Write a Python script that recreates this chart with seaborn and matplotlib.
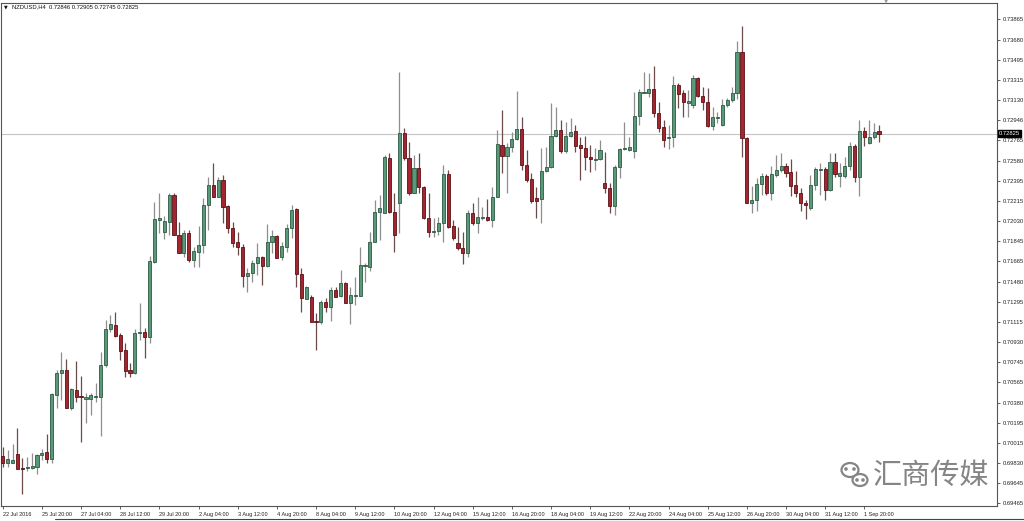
import numpy as np
import pandas as pd
import seaborn as sns
import matplotlib
matplotlib.use("Agg")
import matplotlib.pyplot as plt
from matplotlib.patches import Ellipse
from matplotlib.lines import Line2D

# ---------------- data (NZDUSD H4) ----------------
open_ = [0.69895, 0.69831, 0.69831, 0.69913, 0.69785, 0.69785, 0.69785, 0.69795, 0.69904, 0.69931,
         0.69867, 0.70449, 0.70649, 0.70676, 0.70331, 0.70495, 0.70440, 0.70413, 0.70413, 0.70431,
         0.70431, 0.70722, 0.71049, 0.71085, 0.70995, 0.70858, 0.70676, 0.70649, 0.71013, 0.71022,
         0.70976, 0.71658, 0.72040, 0.71931, 0.72022, 0.72267, 0.71904, 0.71740, 0.71922, 0.71676,
         0.71749, 0.71813, 0.72176, 0.72358, 0.72249, 0.72404, 0.72167, 0.71967, 0.71840, 0.71795,
         0.71531, 0.71558, 0.71649, 0.71704, 0.71622, 0.71840, 0.71895, 0.71704, 0.71795, 0.71967,
         0.72140, 0.71549, 0.71322, 0.71340, 0.71122, 0.71113, 0.71295, 0.71249, 0.71404, 0.71349,
         0.71467, 0.71285, 0.71349, 0.71349, 0.71622, 0.71613, 0.71840, 0.72113, 0.72104, 0.72604,
         0.72113, 0.72195, 0.72831, 0.72604, 0.72285, 0.72513, 0.72340, 0.72058, 0.71931, 0.71940,
         0.72013, 0.72458, 0.71985, 0.71831, 0.71785, 0.71740, 0.72104, 0.72013, 0.72058, 0.72067,
         0.72040, 0.72249, 0.72722, 0.72622, 0.72704, 0.72776, 0.72867, 0.72540, 0.72413, 0.72240,
         0.72231, 0.72485, 0.72522, 0.72804, 0.72858, 0.72667, 0.72804, 0.72849, 0.72722, 0.72695,
         0.72613, 0.72585, 0.72595, 0.72376, 0.72331, 0.72167, 0.72522, 0.72685, 0.72676, 0.72667,
         0.72985, 0.73195, 0.73195, 0.73231, 0.73013, 0.72885, 0.72785, 0.72795, 0.73267, 0.73195,
         0.73104, 0.73085, 0.73331, 0.73167, 0.73113, 0.72895, 0.72967, 0.72904, 0.73085, 0.73131,
         0.73195, 0.73567, 0.72785, 0.72195, 0.72222, 0.72367, 0.72440, 0.72285, 0.72449, 0.72495,
         0.72531, 0.72476, 0.72358, 0.72285, 0.72195, 0.72149, 0.72358, 0.72495, 0.72504, 0.72313,
         0.72567, 0.72440, 0.72440, 0.72531, 0.72713, 0.72431, 0.72849, 0.72740, 0.72795, 0.72846]
high = [0.69976, 0.69949, 0.70004, 0.70149, 0.69876, 0.69885, 0.69922, 0.69913, 0.69958, 0.70095,
        0.70467, 0.70676, 0.70840, 0.70776, 0.70513, 0.70758, 0.70622, 0.70467, 0.70467, 0.70558,
        0.70840, 0.71131, 0.71176, 0.71204, 0.71013, 0.70922, 0.70740, 0.71049, 0.71285, 0.71058,
        0.71713, 0.72204, 0.72285, 0.72076, 0.72285, 0.72285, 0.72022, 0.71949, 0.71949, 0.71795,
        0.71985, 0.72240, 0.72431, 0.72558, 0.72431, 0.72449, 0.72176, 0.72022, 0.71931, 0.71822,
        0.71604, 0.71676, 0.71831, 0.71713, 0.72004, 0.71949, 0.71904, 0.71840, 0.72004, 0.72176,
        0.72149, 0.71604, 0.71440, 0.71358, 0.71195, 0.71313, 0.71331, 0.71431, 0.71431, 0.71585,
        0.71476, 0.71431, 0.71522, 0.71795, 0.71649, 0.71931, 0.72222, 0.72267, 0.72631, 0.72649,
        0.72285, 0.73385, 0.72876, 0.72749, 0.72631, 0.72649, 0.72349, 0.72285, 0.72058, 0.72067,
        0.72540, 0.72495, 0.72040, 0.71976, 0.71931, 0.72131, 0.72195, 0.72249, 0.72158, 0.72231,
        0.72340, 0.72858, 0.73040, 0.72740, 0.72840, 0.73213, 0.72976, 0.72676, 0.72467, 0.72340,
        0.72695, 0.72704, 0.73104, 0.73067, 0.72949, 0.72931, 0.72967, 0.72904, 0.72795, 0.72804,
        0.72722, 0.72695, 0.72767, 0.72658, 0.72376, 0.72540, 0.72695, 0.72931, 0.72795, 0.73204,
        0.73231, 0.73385, 0.73376, 0.73440, 0.73113, 0.72949, 0.72904, 0.73349, 0.73285, 0.73222,
        0.73222, 0.73358, 0.73340, 0.73249, 0.73240, 0.73067, 0.73022, 0.73140, 0.73149, 0.73249,
        0.73667, 0.73804, 0.72795, 0.72349, 0.72422, 0.72467, 0.72458, 0.72531, 0.72631, 0.72649,
        0.72558, 0.72595, 0.72485, 0.72331, 0.72222, 0.72449, 0.72522, 0.72558, 0.72522, 0.72649,
        0.72649, 0.72558, 0.72613, 0.72749, 0.72731, 0.72949, 0.72885, 0.72949, 0.72922, 0.72905]
low = [0.69795, 0.69795, 0.69831, 0.69776, 0.69549, 0.69758, 0.69776, 0.69731, 0.69858, 0.69831,
       0.69831, 0.70331, 0.70404, 0.70331, 0.70313, 0.70385, 0.70022, 0.70195, 0.70267, 0.70385,
       0.70076, 0.70704, 0.71022, 0.70976, 0.70767, 0.70613, 0.70613, 0.70640, 0.70949, 0.70785,
       0.70922, 0.71649, 0.71922, 0.71867, 0.71904, 0.71904, 0.71740, 0.71704, 0.71658, 0.71613,
       0.71613, 0.71740, 0.71949, 0.72249, 0.72249, 0.72013, 0.71922, 0.71795, 0.71722, 0.71431,
       0.71385, 0.71476, 0.71540, 0.71449, 0.71613, 0.71740, 0.71695, 0.71676, 0.71749, 0.71876,
       0.71431, 0.71204, 0.71322, 0.71113, 0.70858, 0.71095, 0.71204, 0.71122, 0.71340, 0.71340,
       0.71285, 0.71095, 0.71267, 0.71349, 0.71476, 0.71576, 0.71840, 0.71858, 0.72104, 0.72104,
       0.71749, 0.71922, 0.72585, 0.72267, 0.72285, 0.72285, 0.72049, 0.71885, 0.71885, 0.71904,
       0.71840, 0.71967, 0.71858, 0.71767, 0.71640, 0.71704, 0.71995, 0.71922, 0.72040, 0.72031,
       0.71976, 0.72249, 0.72467, 0.72285, 0.72658, 0.72767, 0.72495, 0.72385, 0.72195, 0.72058,
       0.72013, 0.72476, 0.72513, 0.72795, 0.72649, 0.72649, 0.72795, 0.72658, 0.72404, 0.72495,
       0.72476, 0.72495, 0.72585, 0.72285, 0.72104, 0.72085, 0.72422, 0.72676, 0.72667, 0.72604,
       0.72904, 0.73195, 0.73158, 0.72976, 0.72840, 0.72704, 0.72685, 0.72704, 0.73058, 0.72976,
       0.72976, 0.73058, 0.73158, 0.73040, 0.72885, 0.72858, 0.72922, 0.72895, 0.73067, 0.73113,
       0.73140, 0.72613, 0.72195, 0.72104, 0.72122, 0.72267, 0.72267, 0.72222, 0.72431, 0.72476,
       0.72431, 0.72258, 0.72249, 0.72122, 0.72049, 0.72131, 0.72313, 0.72267, 0.72222, 0.72304,
       0.72431, 0.72340, 0.72422, 0.72495, 0.72385, 0.72258, 0.72713, 0.72731, 0.72776, 0.72745]
close = [0.69831, 0.69867, 0.69858, 0.69776, 0.69776, 0.69795, 0.69804, 0.69904, 0.69922, 0.69867,
         0.70458, 0.70649, 0.70676, 0.70331, 0.70504, 0.70431, 0.70431, 0.70431, 0.70449, 0.70440,
         0.70722, 0.71049, 0.71095, 0.70985, 0.70849, 0.70667, 0.70649, 0.71013, 0.71022, 0.70976,
         0.71667, 0.72049, 0.72058, 0.72031, 0.72267, 0.71904, 0.71740, 0.71922, 0.71676, 0.71758,
         0.71813, 0.72176, 0.72358, 0.72249, 0.72404, 0.72158, 0.71967, 0.71831, 0.71795, 0.71531,
         0.71558, 0.71649, 0.71704, 0.71622, 0.71840, 0.71895, 0.71695, 0.71804, 0.71967, 0.72131,
         0.71549, 0.71331, 0.71431, 0.71113, 0.71113, 0.71295, 0.71249, 0.71404, 0.71340, 0.71467,
         0.71285, 0.71358, 0.71358, 0.71631, 0.71631, 0.71840, 0.72113, 0.72149, 0.72613, 0.72113,
         0.71904, 0.72831, 0.72604, 0.72285, 0.72513, 0.72340, 0.72058, 0.71931, 0.71940, 0.72013,
         0.72458, 0.71976, 0.71876, 0.71785, 0.71740, 0.72104, 0.72013, 0.72067, 0.72067, 0.72040,
         0.72249, 0.72731, 0.72622, 0.72704, 0.72776, 0.72867, 0.72540, 0.72404, 0.72213, 0.72213,
         0.72485, 0.72522, 0.72804, 0.72858, 0.72667, 0.72804, 0.72840, 0.72713, 0.72695, 0.72613,
         0.72595, 0.72595, 0.72676, 0.72331, 0.72167, 0.72522, 0.72685, 0.72695, 0.72704, 0.72985,
         0.73204, 0.73204, 0.73231, 0.73013, 0.72876, 0.72767, 0.72795, 0.73267, 0.73185, 0.73113,
         0.73122, 0.73331, 0.73167, 0.73113, 0.72895, 0.72976, 0.72976, 0.73085, 0.73131, 0.73195,
         0.73567, 0.72785, 0.72195, 0.72222, 0.72367, 0.72440, 0.72285, 0.72458, 0.72495, 0.72531,
         0.72467, 0.72349, 0.72285, 0.72195, 0.72176, 0.72358, 0.72504, 0.72504, 0.72313, 0.72567,
         0.72458, 0.72467, 0.72531, 0.72713, 0.72431, 0.72849, 0.72795, 0.72795, 0.72840, 0.72825]

price_ticks = [0.73865, 0.73680, 0.73495, 0.73315, 0.73130, 0.72946, 0.72765, 0.72580, 0.72395,
               0.72215, 0.72030, 0.71845, 0.71665, 0.71480, 0.71295, 0.71115, 0.70930, 0.70745,
               0.70565, 0.70380, 0.70195, 0.70015, 0.69830, 0.69645, 0.69465]
date_labels = ["22 Jul 2016", "25 Jul 20:00", "27 Jul 04:00", "28 Jul 12:00", "29 Jul 20:00",
               "2 Aug 04:00", "3 Aug 12:00", "4 Aug 20:00", "8 Aug 04:00", "9 Aug 12:00",
               "10 Aug 20:00", "12 Aug 04:00", "15 Aug 12:00", "16 Aug 20:00", "18 Aug 04:00",
               "19 Aug 12:00", "22 Aug 20:00", "24 Aug 04:00", "25 Aug 12:00", "26 Aug 20:00",
               "30 Aug 04:00", "31 Aug 12:00", "1 Sep 20:00"]
bars_per_label = 8
symbol = "NZDUSD,H4"
header_values = ["0.72846", "0.72905", "0.72745", "0.72825"]
last_price = 0.72825
watermark = "汇商传媒"

# ---------------- figure ----------------
sns.set_theme(style="white")
plt.rcParams['font.family'] = ['Liberation Sans', 'DejaVu Sans']

df = pd.DataFrame({"open": open_, "high": high, "low": low, "close": close})
df["idx"] = np.arange(len(df))
df["bull"] = df["close"] >= df["open"]

W, H = 1024, 521
fig = plt.figure(figsize=(W / 100, H / 100), dpi=100)
fig.patch.set_facecolor("white")
ax = fig.add_axes([1 / W, 1 - 506 / H, 996 / W, 503 / H])
ax.set_facecolor("white")

green_face, green_edge = "#5a987a", "#2c5a43"
red_face, red_edge = "#a3262f", "#5c1016"

# wicks
wick_colors = np.where(df["bull"], "#8e8e8e", "#6a4a4a")
ax.vlines(df["idx"], df["low"], df["high"], colors=wick_colors, linewidth=0.9, zorder=2)

# bodies
min_h = 0.00003
for bull, face, edge in [(True, green_face, green_edge), (False, red_face, red_edge)]:
    sub = df[df["bull"] == bull]
    bottom = np.minimum(sub["open"], sub["close"])
    height = np.maximum(np.abs(sub["close"] - sub["open"]), min_h)
    ax.bar(sub["idx"], height, bottom=bottom, width=0.64, color=face,
           edgecolor=edge, linewidth=0.6, zorder=3)

# current price line
ax.axhline(last_price, color="#c4c4c4", linewidth=0.8, zorder=1)

ax.set_xlim(-0.35, 203.1)
ax.set_ylim(0.69440, 0.74013)

# y axis on the right
ax.yaxis.tick_right()
ax.set_yticks(price_ticks)
ax.set_yticklabels([f"{v:.5f}" for v in price_ticks])
ax.tick_params(axis="y", which="major", direction="out", length=2.5, width=0.6,
               color="#444444", labelsize=4.2, labelcolor="#222222", pad=1.5,
               right=True, left=False)

# x axis
xt = np.arange(len(date_labels)) * bars_per_label
ax.set_xticks(xt)
ax.set_xticklabels(date_labels)
ax.tick_params(axis="x", which="major", direction="out", length=2.5, width=0.6,
               color="#444444", labelsize=4.0, labelcolor="#222222", pad=2, bottom=True)
for lbl in ax.get_xticklabels():
    lbl.set_horizontalalignment("left")

for s in ax.spines.values():
    s.set_color("#555555")
    s.set_linewidth(0.8)

# current price marker box
ax.text(1.0017, last_price, f"{last_price:.5f}", transform=ax.get_yaxis_transform(),
        ha="left", va="center", fontsize=4.2, color="white",
        bbox=dict(boxstyle="square,pad=0.2", fc="black", ec="black"), zorder=6, clip_on=False)

# header text
fig.text(4 / W, 1 - 7 / H, "\u25BC", fontsize=3.5, color="#111111", ha="left", va="center",
         family=["DejaVu Sans"])
fig.text(12 / W, 1 - 7 / H, symbol + "  " + " ".join(header_values),
         fontsize=4.2, color="#111111", ha="left", va="center")
# small shift marker at top
fig.text(886 / W, 1 - 2 / H, "\u25BC", fontsize=4, color="#9a9a9a", ha="center", va="center",
         family=["DejaVu Sans"])

# bottom tab line
fig.add_artist(Line2D([55 / W, 1.0], [1 - 519 / H, 1 - 519 / H], color="#444444", linewidth=0.8))

# watermark
fig.text(931 / W, 1 - 476 / H, watermark, fontsize=21, color="#858585", ha="center",
         va="center", family=["Noto Sans CJK SC", "DejaVu Sans"])
fax = fig.add_axes([0, 0, 1, 1], facecolor="none")
fax.set_xlim(0, W)
fax.set_ylim(H, 0)
fax.axis("off")
fax.add_patch(Ellipse((850, 470), 17, 14, fill=False, ec="#858585", lw=1.6))
fax.add_patch(Ellipse((860, 480), 15, 12, fill=True, ec="#858585", lw=1.6, fc="white"))
for (cx, cy) in [(846, 469), (854, 469), (857, 480), (863, 480)]:
    fax.add_patch(Ellipse((cx, cy), 2.2, 2.2, color="#858585"))

fig.savefig("out.png", dpi=100, facecolor="white")
